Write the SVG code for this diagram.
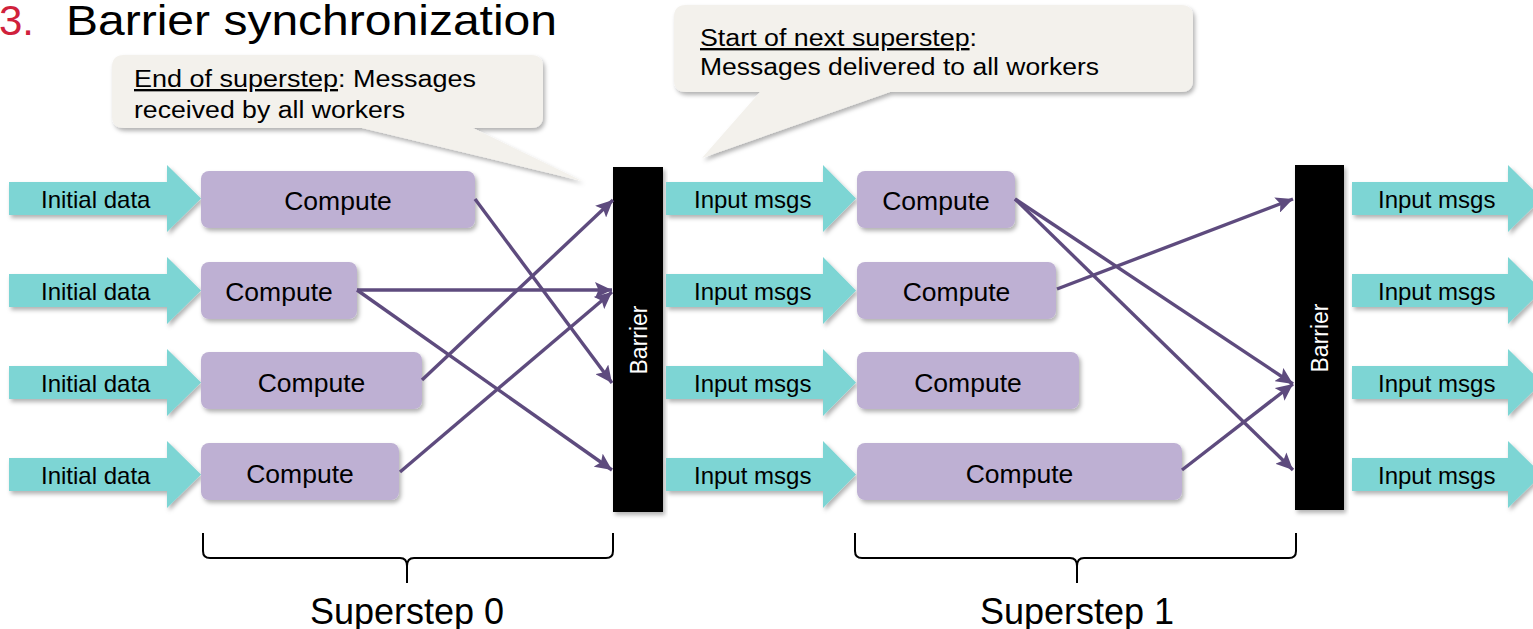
<svg xmlns="http://www.w3.org/2000/svg" width="1533" height="629" viewBox="0 0 1533 629">
<defs>
<filter id="sh" x="-10%" y="-20%" width="120%" height="150%">
<feDropShadow dx="2" dy="3" stdDeviation="2" flood-color="#000" flood-opacity="0.3"/>
</filter>
<marker id="ah" markerUnits="userSpaceOnUse" markerWidth="18" markerHeight="16" refX="17" refY="8" orient="auto">
<path d="M0,0 L17,8 L0,16 L3.5,8 Z" fill="#5E4B7E"/>
</marker>
<style>
.t{font-family:"Liberation Sans",Arial,sans-serif;fill:#000}
.arrow{fill:#7DD5D4;filter:url(#sh)}
.cmp{fill:#BEB0D3;filter:url(#sh)}
.bar{fill:#000;filter:url(#sh)}
.call{fill:#F3F1EC;filter:url(#sh)}
.lbl{font-size:24px}
.cl{font-size:26.5px;text-anchor:middle}
.bt{font-size:23px;fill:#fff;text-anchor:middle}
.con{stroke:#5E4B7E;stroke-width:3.4;fill:none;marker-end:url(#ah)}
.brace{stroke:#000;stroke-width:2;fill:none}
.ct{font-size:23.5px}
</style>
</defs>
<rect width="1533" height="629" fill="#fff"/>
<g id="title">
<text class="t" x="-1" y="35" font-size="42" style="fill:#D0213B">3.</text>
<text class="t" x="66" y="35" font-size="42" textLength="491" lengthAdjust="spacingAndGlyphs">Barrier synchronization</text>
</g>
<g id="callout1">
<path class="call" d="M124,55 H531 Q543,55 543,67 V116 Q543,128 531,128 H473 L582,181 L362,128 H124 Q112,128 112,116 V67 Q112,55 124,55 Z"/>
<text class="t ct" x="134" y="87" textLength="342" lengthAdjust="spacingAndGlyphs"><tspan text-decoration="underline">End of superstep</tspan>: Messages</text>
<text class="t ct" x="134" y="118" textLength="271" lengthAdjust="spacingAndGlyphs">received by all workers</text>
</g>
<g id="callout2">
<path class="call" d="M686,5 H1181 Q1193,5 1193,17 V80 Q1193,92 1181,92 H890 L702,158 L760,92 H686 Q674,92 674,80 V17 Q674,5 686,5 Z"/>
<text class="t ct" x="700" y="46" textLength="277" lengthAdjust="spacingAndGlyphs"><tspan text-decoration="underline">Start of next superstep</tspan>:</text>
<text class="t ct" x="700" y="75" textLength="399" lengthAdjust="spacingAndGlyphs">Messages delivered to all workers</text>
</g>
<g id="init1"><path class="arrow" d="M9,182 H167 V165 L201,198.5 L167,232 V215 H9 Z"/><text class="t lbl" x="41" y="208">Initial data</text></g>
<g id="init2"><path class="arrow" d="M9,274 H167 V257 L201,290.5 L167,324 V307 H9 Z"/><text class="t lbl" x="41" y="300">Initial data</text></g>
<g id="init3"><path class="arrow" d="M9,366 H167 V349 L201,382.5 L167,416 V399 H9 Z"/><text class="t lbl" x="41" y="392">Initial data</text></g>
<g id="init4"><path class="arrow" d="M9,458 H167 V441 L201,474.5 L167,508 V491 H9 Z"/><text class="t lbl" x="41" y="484">Initial data</text></g>
<g id="c0a"><rect class="cmp" x="201" y="171" width="274" height="57" rx="8"/><text class="t cl" x="338" y="210">Compute</text></g>
<g id="c0b"><rect class="cmp" x="201" y="262" width="156" height="57" rx="8"/><text class="t cl" x="279" y="301">Compute</text></g>
<g id="c0c"><rect class="cmp" x="201" y="352" width="221" height="57" rx="8"/><text class="t cl" x="311.5" y="392">Compute</text></g>
<g id="c0d"><rect class="cmp" x="201" y="443" width="198" height="57" rx="8"/><text class="t cl" x="300" y="483">Compute</text></g>
<g id="barrier1"><rect class="bar" x="613" y="167" width="50" height="345"/><text class="t bt" transform="translate(646.5,340) rotate(-90)">Barrier</text></g>
<g id="in1"><path class="arrow" d="M666,182 H823 V165 L856,198.5 L823,232 V215 H666 Z"/><text class="t lbl" x="694" y="208">Input msgs</text></g>
<g id="in2"><path class="arrow" d="M666,274 H823 V257 L856,290.5 L823,324 V307 H666 Z"/><text class="t lbl" x="694" y="300">Input msgs</text></g>
<g id="in3"><path class="arrow" d="M666,366 H823 V349 L856,382.5 L823,416 V399 H666 Z"/><text class="t lbl" x="694" y="392">Input msgs</text></g>
<g id="in4"><path class="arrow" d="M666,458 H823 V441 L856,474.5 L823,508 V491 H666 Z"/><text class="t lbl" x="694" y="484">Input msgs</text></g>
<g id="c1a"><rect class="cmp" x="857" y="171" width="158" height="57" rx="8"/><text class="t cl" x="936" y="210">Compute</text></g>
<g id="c1b"><rect class="cmp" x="857" y="262" width="199" height="57" rx="8"/><text class="t cl" x="956.5" y="301">Compute</text></g>
<g id="c1c"><rect class="cmp" x="857" y="352" width="222" height="57" rx="8"/><text class="t cl" x="968" y="392">Compute</text></g>
<g id="c1d"><rect class="cmp" x="857" y="443" width="325" height="57" rx="8"/><text class="t cl" x="1019.5" y="483">Compute</text></g>
<g id="barrier2"><rect class="bar" x="1295" y="165" width="49" height="345"/><text class="t bt" transform="translate(1328,338) rotate(-90)">Barrier</text></g>
<g id="out1"><path class="arrow" d="M1352,182 H1508 V165 L1542,198.5 L1508,232 V215 H1352 Z"/><text class="t lbl" x="1378" y="208">Input msgs</text></g>
<g id="out2"><path class="arrow" d="M1352,274 H1508 V257 L1542,290.5 L1508,324 V307 H1352 Z"/><text class="t lbl" x="1378" y="300">Input msgs</text></g>
<g id="out3"><path class="arrow" d="M1352,366 H1508 V349 L1542,382.5 L1508,416 V399 H1352 Z"/><text class="t lbl" x="1378" y="392">Input msgs</text></g>
<g id="out4"><path class="arrow" d="M1352,458 H1508 V441 L1542,474.5 L1508,508 V491 H1352 Z"/><text class="t lbl" x="1378" y="484">Input msgs</text></g>
<g id="connectors">
<line class="con" x1="475" y1="199" x2="612" y2="383"/>
<line class="con" x1="357" y1="290" x2="612" y2="290"/>
<line class="con" x1="357" y1="290" x2="612" y2="470"/>
<line class="con" x1="422" y1="380" x2="613" y2="200"/>
<line class="con" x1="400" y1="472" x2="612" y2="292"/>
<line class="con" x1="1015" y1="199" x2="1293" y2="384"/>
<line class="con" x1="1015" y1="199" x2="1293" y2="470"/>
<line class="con" x1="1057" y1="289" x2="1293" y2="199"/>
<line class="con" x1="1182" y1="470" x2="1293" y2="384"/>
</g>
<g id="brace0">
<path class="brace" d="M203,533 V551 Q203,558 210,558 H400 Q407,558 407,566 V583 M407,566 Q407,558 414,558 H606 Q613,558 613,551 V533"/>
<text class="t" x="407" y="624" font-size="36" text-anchor="middle">Superstep 0</text>
</g>
<g id="brace1">
<path class="brace" d="M855,533 V551 Q855,558 862,558 H1070 Q1077,558 1077,566 V583 M1077,566 Q1077,558 1084,558 H1289 Q1296,558 1296,551 V533"/>
<text class="t" x="1077" y="624" font-size="36" text-anchor="middle">Superstep 1</text>
</g>
</svg>
